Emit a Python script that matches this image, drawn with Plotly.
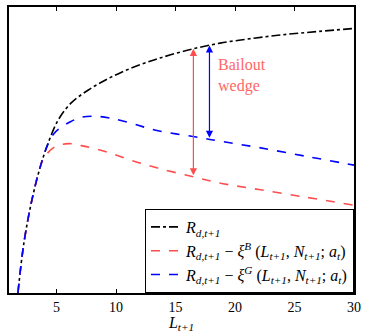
import numpy as np
import plotly.graph_objects as go

# Data (y in arbitrary units, no y tick labels shown)
L_black = [1.75, 2.25, 2.92, 3.67, 4.33, 5.17, 6.25, 7.67, 9.08, 10.42, 11.83, 13.25, 14.58, 16.42, 18.75, 21.58, 24.33, 27.08, 30]
R_black = [0, 51, 95, 131, 155, 178, 195, 208, 218, 226, 233, 239, 244, 250, 256, 261, 265, 268, 271]

L_blue = [1.75, 2.25, 2.92, 3.67, 4.33, 4.75, 5.17, 6.25, 7.08, 8.33, 9.58, 11.25, 13.25, 16.6, 19, 22, 26, 30]
R_blue = [0, 51, 95, 131, 154, 163, 168, 176, 180, 181, 179, 174, 167, 160, 155, 149, 140, 131]

L_red = [1.75, 2.25, 2.92, 3.67, 4.08, 4.9, 6.0, 7.08, 9.08, 11.25, 13.5, 16.5, 19, 22, 26, 30]
R_red = [0, 51, 95, 131, 141, 150, 153, 151, 145, 136, 128, 119, 112, 106, 98, 90]

wedge_L_red = 16.5
wedge_L_blue = 17.85

x_ticks = [5, 10, 15, 20, 25, 30]

serif = "Liberation Serif, DejaVu Serif, serif"

name_black = "<i>R</i><sub><i>d,t+1</i></sub>"
name_red = ("<i>R</i><sub><i>d,t+1</i></sub> − <i>ξ</i><sup><i>B</i></sup> (<i>L</i><sub><i>t+1</i></sub>, "
            "<i>N</i><sub><i>t+1</i></sub>; <i>a</i><sub><i>t</i></sub>)")
name_blue = ("<i>R</i><sub><i>d,t+1</i></sub> − <i>ξ</i><sup><i>G</i></sup> (<i>L</i><sub><i>t+1</i></sub>, "
             "<i>N</i><sub><i>t+1</i></sub>; <i>a</i><sub><i>t</i></sub>)")

fig = go.Figure()
fig.add_trace(go.Scatter(x=L_black, y=R_black, mode="lines",
                         line=dict(color="black", dash="dashdot", width=1.6, shape="spline", smoothing=1),
                         name=name_black))
fig.add_trace(go.Scatter(x=L_red, y=R_red, mode="lines",
                         line=dict(color="#ff4d4d", dash="dash", width=1.6, shape="spline", smoothing=1),
                         name=name_red))
fig.add_trace(go.Scatter(x=L_blue, y=R_blue, mode="lines",
                         line=dict(color="#0000ff", dash="dash", width=1.6, shape="spline", smoothing=1),
                         name=name_blue))

# wedge arrows, ends taken from the curves
rt = float(np.interp(wedge_L_red, L_black, R_black))
rb = float(np.interp(wedge_L_red, L_red, R_red))
bt = float(np.interp(wedge_L_blue, L_black, R_black))
bb = float(np.interp(wedge_L_blue, L_blue, R_blue))
for xv, top, bot, col in [(wedge_L_red, rt, rb, "#ff4d4d"), (wedge_L_blue, bt, bb, "#0000ff")]:
    fig.add_annotation(x=xv, y=top, ax=xv, ay=bot, xref="x", yref="y", axref="x", ayref="y",
                       text="", showarrow=True, arrowhead=2, arrowside="end+start", arrowsize=1.2,
                       arrowwidth=1.2, arrowcolor=col, standoff=0, startstandoff=0)

fig.add_annotation(x=18.4, y=223, xref="x", yref="y", text="Bailout<br>wedge", showarrow=False,
                   xanchor="left", yanchor="middle", align="left",
                   font=dict(family=serif, size=16, color="#ff6666"))

fig.update_layout(
    width=366, height=333,
    margin=dict(l=9, r=7, t=5, b=35),
    paper_bgcolor="white", plot_bgcolor="white",
    font=dict(family=serif, size=14, color="black"),
    showlegend=True,
    legend=dict(x=1, y=0, xanchor="right", yanchor="bottom", bordercolor="black", borderwidth=1,
                bgcolor="white", font=dict(family=serif, size=16), tracegroupgap=0, itemwidth=30),
    xaxis=dict(range=[1, 30], tickvals=x_ticks, ticks="inside", ticklen=4, tickcolor="black",
               showgrid=False, zeroline=False, showline=True, linecolor="black", linewidth=1.5, mirror="ticks",
               title=dict(text="<i>L</i><sub><i>t+1</i></sub>", standoff=2, font=dict(size=16)),
               tickfont=dict(size=14)),
    yaxis=dict(range=[0, 293], showticklabels=False, ticks="", showgrid=False, zeroline=False,
               showline=True, linecolor="black", linewidth=1.5, mirror=True),
)

fig.write_html("out.html", config={"displayModeBar": False},
               post_script="document.body.style.margin='0px';")
